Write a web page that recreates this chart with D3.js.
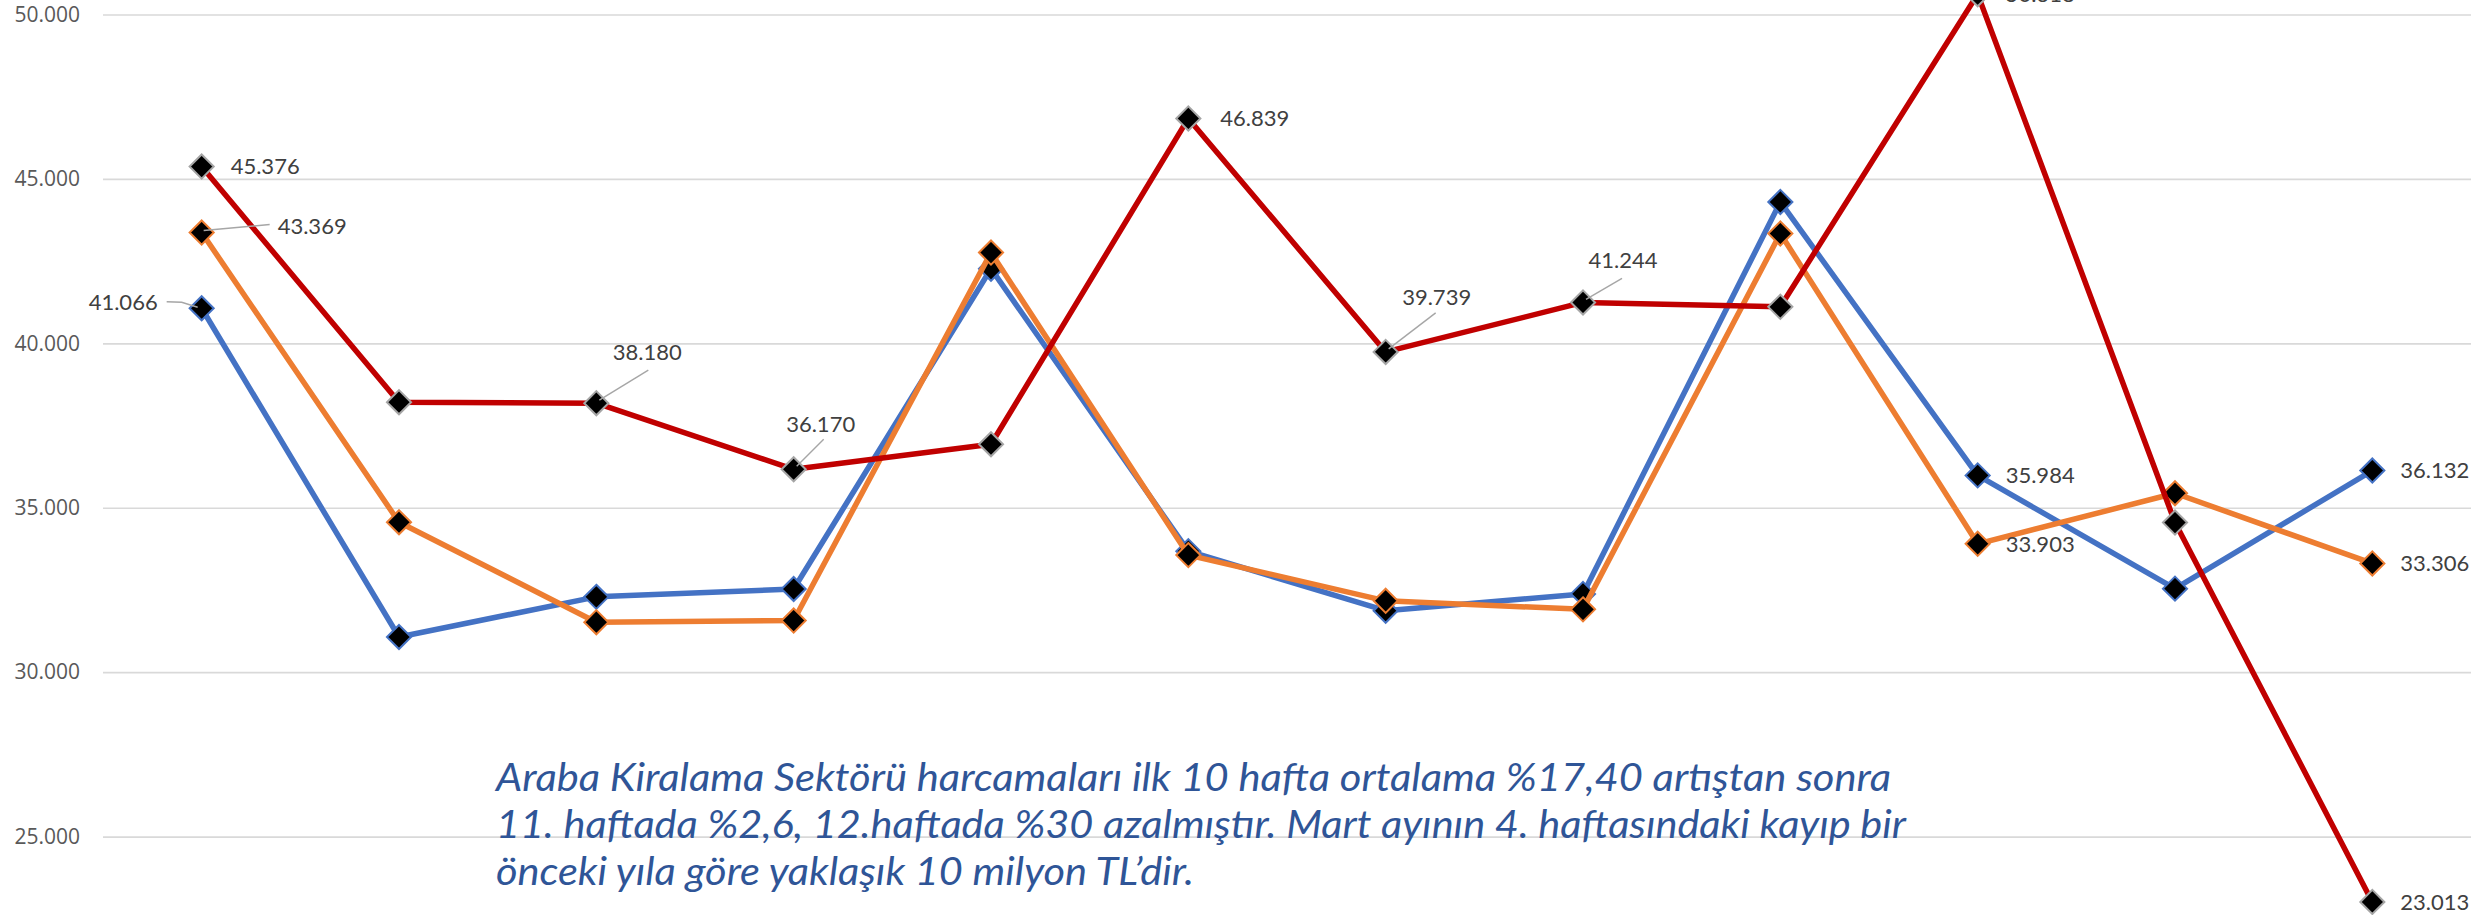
<!DOCTYPE html>
<html>
<head>
<meta charset="utf-8">
<script src="https://cdn.jsdelivr.net/npm/d3@7"></script>
<style>
  body { margin: 0; background: #fff; }
  svg { display: block; }
</style>
</head>
<body>
<div id="chart"></div>
<script>
// weekly spending, first 12 weeks of the year (values in TL)
var weeks = ["1", "2", "3", "4", "5", "6", "7", "8", "9", "10", "11", "12"];
var seriesNames = ["2018", "2019", "2020"];
var values2018 = [41066, 31070, 32290, 32530, 42270, 33680, 31870, 32380, 44300, 35984, 32540, 36132];
var values2019 = [43369, 34560, 31520, 31570, 42760, 33560, 32170, 31910, 43340, 33903, 35440, 33306];
var values2020 = [45376, 38210, 38180, 36170, 36930, 46839, 39739, 41244, 41110, 50618, 34550, 23013];
var yTicks = [25000, 30000, 35000, 40000, 45000, 50000];

var noteLines = [
    "Araba Kiralama Sektörü harcamaları ilk 10 hafta ortalama %17,40 artıştan sonra",
    "11. haftada %2,6, 12.haftada %30 azalmıştır. Mart ayının 4. haftasındaki kayıp bir",
    "önceki yıla göre yaklaşık 10 milyon TL’dir."
];

var width = 2471, height = 915;
var margin = {left: 103, right: 0};

var colors = ["#4472C4", "#ED7D31", "#C00000"];
var markerStroke = ["#4472C4", "#ED7D31", "#A5A5A5"];

var svg = d3.select("#chart").append("svg")
    .attr("width", width)
    .attr("height", height);

var x = d3.scalePoint()
    .domain(weeks)
    .range([margin.left, width - margin.right])
    .padding(0.5);

var y = d3.scaleLinear()
    .domain([20000, 50000])
    .range([1001, 14.5]);

var trLocale = d3.formatLocale({decimal: ",", thousands: ".", grouping: [3], currency: ["", " TL"]});
var fmt = function(v) { return trLocale.format(",.3f")(v / 1000).replace(",", "."); };
var fmtTick = trLocale.format(",");

// gridlines + y labels
var yAxis = svg.append("g")
    .attr("transform", "translate(" + margin.left + ",0)")
    .call(d3.axisLeft(y)
        .tickValues(yTicks)
        .tickSize(-(width - margin.left - margin.right))
        .tickPadding(23)
        .tickFormat(fmtTick));
yAxis.select(".domain").remove();
yAxis.selectAll(".tick line")
    .attr("stroke", "#D9D9D9")
    .attr("stroke-width", 1.6);
yAxis.selectAll(".tick text")
    .attr("fill", "#595959")
    .style("font-family", "'Open Sans', sans-serif")
    .style("font-size", "21px");

// lines + markers, one series after the other
var allSeries = [values2018, values2019, values2020];
var line = d3.line()
    .x(function(d, i) { return x(weeks[i]); })
    .y(function(d) { return y(d); });
var diamond = d3.symbol().type(d3.symbolDiamond2).size(370);

allSeries.forEach(function(vals, s) {
    var g = svg.append("g").attr("class", "series-" + seriesNames[s]);
    g.append("path")
        .datum(vals)
        .attr("d", line)
        .attr("fill", "none")
        .attr("stroke", colors[s])
        .attr("stroke-width", 5.5)
        .attr("stroke-linejoin", "round");
    g.selectAll(".marker")
        .data(vals)
        .enter().append("path")
        .attr("class", "marker")
        .attr("transform", function(d, i) { return "translate(" + x(weeks[i]) + "," + y(d) + ")"; })
        .attr("d", diamond)
        .attr("fill", "#000")
        .attr("stroke", markerStroke[s])
        .attr("stroke-width", 2);
});

// data labels (which points get a label, and where it sits relative to the point)
var labelSpecs = [
    {s: 0, i: 0, dx: -44, dy: -6, anchor: "end", leader: [[-35, -6.5], [-20, -6], [-4, -1]]},
    {s: 0, i: 9, dx: 28, dy: 0, anchor: "start"},
    {s: 0, i: 11, dx: 28, dy: 0, anchor: "start"},
    {s: 1, i: 0, dx: 76, dy: -6, anchor: "start", leader: [[68, -8], [2, -2]]},
    {s: 1, i: 9, dx: 28, dy: 0, anchor: "start"},
    {s: 1, i: 11, dx: 28, dy: 0, anchor: "start"},
    {s: 2, i: 0, dx: 29, dy: 0, anchor: "start"},
    {s: 2, i: 2, dx: 51, dy: -51, anchor: "middle", leader: [[52, -33], [3, -3]]},
    {s: 2, i: 3, dx: 27, dy: -45, anchor: "middle", leader: [[30, -30], [3, -3]]},
    {s: 2, i: 5, dx: 32, dy: 0, anchor: "start"},
    {s: 2, i: 6, dx: 51, dy: -55, anchor: "middle", leader: [[50, -39], [3, -3]]},
    {s: 2, i: 7, dx: 40, dy: -42, anchor: "middle", leader: [[39, -24], [3, -3]]},
    {s: 2, i: 9, dx: 28, dy: 0, anchor: "start"},
    {s: 2, i: 11, dx: 28, dy: 0, anchor: "start"}
];

var labels = svg.append("g").attr("class", "labels");
labelSpecs.forEach(function(l) {
    var v = allSeries[l.s][l.i];
    var px = x(weeks[l.i]), py = y(v);
    if (l.leader) {
        labels.append("path")
            .attr("d", d3.line()(l.leader.map(function(p) { return [px + p[0], py + p[1]]; })))
            .attr("fill", "none")
            .attr("stroke", "#A6A6A6")
            .attr("stroke-width", 1.4);
    }
    labels.append("text")
        .attr("x", px + l.dx)
        .attr("y", py + l.dy)
        .attr("dy", "0.36em")
        .attr("text-anchor", l.anchor)
        .attr("fill", "#404040")
        .style("font-family", "Lato, sans-serif")
        .style("font-size", "22px")
        .text(fmt(v));
});

// comment box text
var noteWidths = [1395, 1410, 698];
svg.append("g").selectAll("text")
    .data(noteLines)
    .enter().append("text")
    .attr("x", 496)
    .attr("y", function(d, i) { return 791 + i * 47; })
    .attr("textLength", function(d, i) { return noteWidths[i]; })
    .attr("lengthAdjust", "spacingAndGlyphs")
    .attr("fill", "#2F5597")
    .style("font-family", "Lato, sans-serif")
    .style("font-style", "italic")
    .style("font-size", "39px")
    .text(function(d) { return d; });
</script>
</body>
</html>
